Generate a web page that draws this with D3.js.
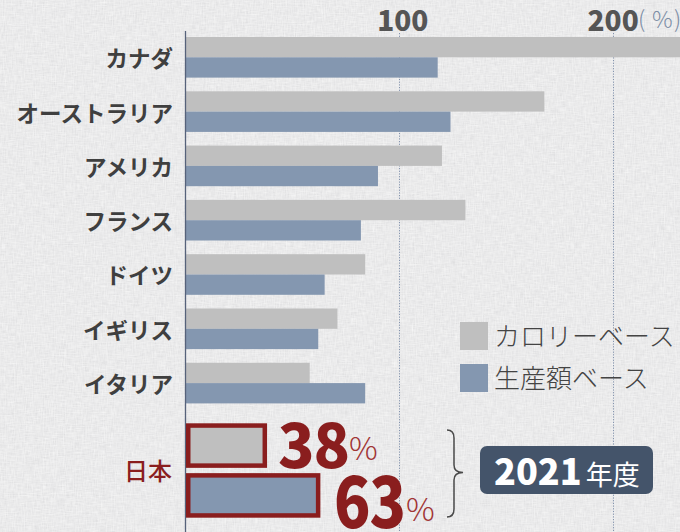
<!DOCTYPE html>
<html lang="ja">
<head>
<meta charset="utf-8">
<script src="https://cdn.jsdelivr.net/npm/d3@7"></script>
<style>
  html, body { margin: 0; padding: 0; background: #f3f3f3; }
  svg { display: block; font-family: "Noto Sans CJK JP", "Noto Sans", sans-serif; }
</style>
</head>
<body>
<svg id="chart" width="680" height="532"></svg>
<script>
// 食料自給率（カロリーベース・生産額ベース）
const countries = ["カナダ", "オーストラリア", "アメリカ", "フランス", "ドイツ", "イギリス", "イタリア"];
const calorieBase = [233, 168, 120, 131, 84, 71, 58];
const productionBase = [118, 124, 90, 82, 65, 62, 84];
const seriesNames = ["カロリーベース", "生産額ベース"];
const japanLabel = "日本";
const japanValues = [38, 63];
const tickValues = [100, 200];
const yearNumber = "2021";
const yearSuffix = "年度";

const W = 680, H = 532;
const colors = ["#bfbfbf", "#8497b0"];
const red = "#8a1e1e";

const svg = d3.select("#chart");

// paper-like background
const defs = svg.append("defs");
const f = defs.append("filter").attr("id", "paper")
  .attr("x", 0).attr("y", 0).attr("width", "100%").attr("height", "100%");
f.append("feTurbulence").attr("type", "fractalNoise").attr("baseFrequency", "0.9 0.12")
  .attr("numOctaves", 2).attr("seed", 4).attr("result", "n1");
f.append("feTurbulence").attr("type", "fractalNoise").attr("baseFrequency", "0.12 0.9")
  .attr("numOctaves", 2).attr("seed", 9).attr("result", "n2");
f.append("feBlend").attr("in", "n1").attr("in2", "n2").attr("mode", "multiply").attr("result", "n3");
f.append("feColorMatrix").attr("in", "n3").attr("type", "matrix")
  .attr("values", "0 0 0 0 0.55  0 0 0 0 0.55  0 0 0 0 0.57  0.7 0 0 0 -0.08");

svg.append("rect").attr("width", W).attr("height", H).attr("fill", "#f5f5f5");
svg.append("rect").attr("width", W).attr("height", H).attr("filter", "url(#paper)");

// scales
const x = d3.scaleLinear().domain([0, 200]).range([186, 612.6]);
const y = d3.scaleBand().domain(countries).range([37, 403.4]).paddingInner(0.252);
const ySub = d3.scaleBand().domain([0, 1]).range([0, y.bandwidth()]);
const yJapan = d3.scaleBand().domain([0, 1]).range([423.3, 517.7]).paddingInner(0.106);

// dotted gridlines
svg.append("g").selectAll("line").data(tickValues).join("line")
  .attr("x1", d => Math.round(x(d)) + 0.5).attr("x2", d => Math.round(x(d)) + 0.5)
  .attr("y1", 33).attr("y2", H)
  .attr("stroke", "#8393ad").attr("stroke-width", 1).attr("stroke-dasharray", "1.2 1.5");

// top tick labels
const axisTop = svg.append("g").attr("transform", "translate(0,30.5)")
  .call(d3.axisTop(x).tickValues(tickValues).tickSize(0).tickPadding(0));
axisTop.select(".domain").remove();
axisTop.selectAll("text")
  .attr("font-family", "'Noto Sans CJK JP', sans-serif")
  .attr("font-size", 28).attr("font-weight", 900).attr("fill", "#555555")
  .attr("dx", d => (d === 100 ? 3 : 0));

// unit label, spaced like full-width brackets
const unit = svg.append("text").attr("y", 28)
  .attr("font-size", 23).attr("font-weight", 300).attr("fill", "#7d8ea6");
unit.append("tspan").attr("x", 638).text("(");
unit.append("tspan").attr("x", 652).text("%");
unit.append("tspan").attr("x", 674).text(")");

// country bars
const rows = countries.map((c, i) => ({ c, vals: [calorieBase[i], productionBase[i]] }));
const g = svg.append("g");
g.selectAll("g").data(rows).join("g")
  .attr("transform", d => `translate(0,${y(d.c)})`)
  .selectAll("rect").data(d => d.vals.map((v, k) => ({ v, k }))).join("rect")
  .attr("x", x(0)).attr("y", d => ySub(d.k))
  .attr("width", d => x(d.v) - x(0)).attr("height", ySub.bandwidth())
  .attr("fill", d => colors[d.k]);

// vertical axis line
svg.append("line").attr("x1", 185.5).attr("x2", 185.5).attr("y1", 31).attr("y2", H)
  .attr("stroke", "#56627a").attr("stroke-width", 1.3);

// country labels
const axisLeft = svg.append("g").attr("transform", "translate(173,0)")
  .call(d3.axisLeft(y).tickSize(0).tickPadding(0));
axisLeft.select(".domain").remove();
axisLeft.selectAll("text")
  .attr("font-family", "'Noto Sans CJK JP', sans-serif")
  .attr("font-size", 22.5).attr("font-weight", 700).attr("fill", "#3f3f3f")
  .attr("dy", "0.44em");

// Japan bars with outline (stroke inside the bar)
const sw = 4.5;
svg.append("g").selectAll("rect").data(japanValues).join("rect")
  .attr("x", x(0) + sw / 2).attr("y", (d, k) => yJapan(k) + sw / 2)
  .attr("width", d => x(d) - x(0) - sw).attr("height", yJapan.bandwidth() - sw)
  .attr("fill", (d, k) => colors[k]).attr("stroke", red).attr("stroke-width", sw);

svg.append("text").attr("x", 172).attr("y", 471)
  .attr("text-anchor", "end").attr("dy", "0.38em")
  .attr("font-size", 24).attr("font-weight", 500).attr("fill", red)
  .text(japanLabel);

// Japan value labels
const valueLabels = [
  { x: 278, y: 467.5, sy: 1.0, px: 349, py: 460 },
  { x: 334, y: 528, sy: 1.16, px: 406, py: 521 }
];
japanValues.forEach((v, k) => {
  const L = valueLabels[k];
  svg.append("text")
    .attr("transform", `translate(${L.x},${L.y}) scale(1,${L.sy})`)
    .attr("font-size", 60).attr("font-weight", 900).attr("fill", red)
    .attr("letter-spacing", -1)
    .text(v);
  svg.append("text").attr("x", L.px).attr("y", L.py)
    .attr("font-size", 32).attr("font-weight", 300).attr("fill", "#a13636")
    .text("%");
});

// brace
svg.append("path")
  .attr("d", "M447,430 Q454,430 454,438 L454,465 Q454,472.5 463,472.5 Q454,472.5 454,480 L454,509 Q454,517 447,517")
  .attr("fill", "none").attr("stroke", "#4a4a4a").attr("stroke-width", 1.5);

// year badge
svg.append("rect").attr("x", 480).attr("y", 446).attr("width", 173).attr("height", 48)
  .attr("rx", 7).attr("fill", "#44546a");
const yt = svg.append("text").attr("x", 494).attr("y", 485).attr("fill", "#ffffff");
yt.append("tspan").attr("font-size", 36).attr("font-weight", 900).text(yearNumber);
yt.append("tspan").attr("dx", 4).attr("font-size", 27).attr("font-weight", 400).text(yearSuffix);

// legend
const legend = svg.append("g").selectAll("g").data(seriesNames).join("g")
  .attr("transform", (d, k) => `translate(460,${322 + k * 42})`);
legend.append("rect").attr("width", 28).attr("height", 28).attr("fill", (d, k) => colors[k]);
legend.append("text").attr("x", 34).attr("y", 14).attr("dy", "0.38em")
  .attr("font-size", 26).attr("font-weight", 300).attr("fill", "#444444")
  .text(d => d);
</script>
</body>
</html>
